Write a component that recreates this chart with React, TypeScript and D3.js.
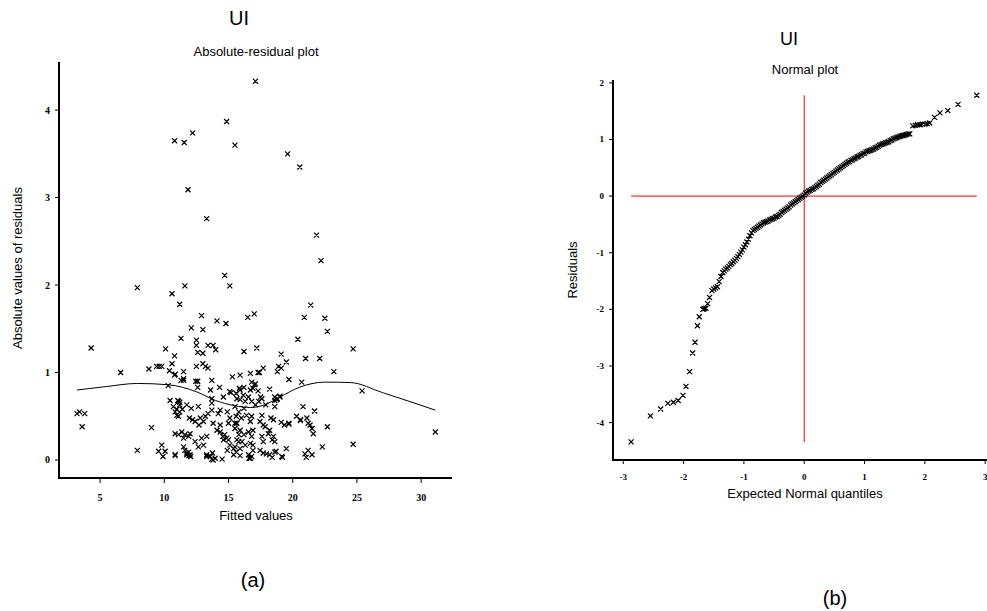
import React from 'react';
import * as d3 from 'd3';

// (a) absolute residuals vs fitted values
const fitted = [
  17.1, 14.85, 12.2, 10.8, 11.55, 15.5, 19.6, 20.55, 11.85, 13.3, 21.85, 22.2, 14.7, 7.9, 11.6, 15.1,
  10.6, 11.2, 21.4, 12.9, 20.9, 22.5, 16.5, 17.0, 14.1, 14.8, 12.1, 13.0, 22.7, 11.3, 12.5, 12.5,
  20.4, 4.3, 10.1, 13.4, 13.8, 14.0, 16.2, 17.2, 24.7, 12.6, 13.0, 19.1, 10.8, 21.0, 22.1, 19.5,
  10.6, 13.0, 13.2, 13.4, 8.8, 9.4, 9.6, 9.8, 12.5, 18.9, 19.1, 18.8, 17.7, 17.4, 6.6, 10.4,
  11.5, 23.2, 11.3, 11.5, 10.8, 13.7, 15.3, 15.9, 16.7, 16.8, 17.0, 17.1, 19.7, 20.7, 12.45, 12.6,
  10.3, 12.6, 14.3, 13.6, 18.2, 15.9, 16.2, 15.6, 25.4, 14.6, 15.2, 17.5, 19.0, 18.8, 18.6, 10.45,
  11.05, 11.2, 13.7, 13.7, 20.8, 3.2, 3.4, 3.8, 3.6, 21.7, 22.7, 9.0, 31.1, 24.7, 22.3, 7.9,
  10.85, 11.5, 15.1, 15.85, 11.1, 11.2, 10.7, 10.97, 10.84, 11.2, 11.4, 11.75, 12.1, 12.65, 10.97, 11.1,
  11.95, 12.2, 12.4, 12.8, 13.05, 12.7, 13.2, 13.7, 14.2, 13.8, 14.35, 14.9, 15.1, 15.6, 15.0, 15.5,
  10.84, 11.1, 11.36, 11.6, 12.0, 11.9, 11.5, 12.4, 12.9, 13.3, 13.05, 12.65, 11.5, 11.6, 11.9, 11.75,
  12.0, 9.8, 9.55, 10.06, 9.9, 10.84, 13.3, 13.57, 13.96, 13.7, 14.35, 14.7, 15.0, 14.6, 15.1, 14.9,
  15.4, 15.6, 15.8, 17.3, 16.7, 16.9, 17.3, 16.15, 15.65, 15.9, 16.3, 16.55, 16.8, 17.1, 17.35, 17.6,
  18.6, 18.75, 19.0, 18.6, 17.9, 15.5, 15.8, 16.2, 16.4, 16.8, 16.0, 15.65, 16.7, 17.6, 17.7, 17.85,
  17.45, 18.3, 18.5, 19.1, 19.35, 19.7, 20.6, 21.1, 21.2, 21.35, 21.5, 21.6, 15.5, 15.9, 15.8, 16.2,
  15.65, 16.05, 16.3, 15.9, 15.5, 16.55, 16.9, 16.8, 16.7, 16.9, 16.55, 16.8, 16.7, 17.6, 17.7, 18.1,
  18.4, 18.5, 18.6, 17.45, 17.7, 17.95, 18.2, 18.6, 19.15, 19.5, 20.95, 21.2, 21.5, 18.2, 18.7, 19.2,
  18.4, 19.7, 20.6, 20.3, 21.05, 10.84, 11.75, 11.9, 12.05, 13.3, 13.8, 14.5, 13.75, 15.4, 15.9, 16.6,
  16.9, 13.4, 14.35, 14.1, 14.55, 14.87,
];
const absResid = [
  4.33, 3.87, 3.74, 3.65, 3.63, 3.60, 3.50, 3.35, 3.09, 2.76, 2.57, 2.28, 2.11, 1.97, 1.99, 1.99,
  1.90, 1.78, 1.77, 1.65, 1.63, 1.62, 1.63, 1.67, 1.59, 1.56, 1.51, 1.49, 1.47, 1.39, 1.37, 1.31,
  1.38, 1.28, 1.27, 1.31, 1.31, 1.26, 1.24, 1.28, 1.27, 1.23, 1.22, 1.21, 1.19, 1.16, 1.16, 1.12,
  1.10, 1.10, 1.07, 1.05, 1.04, 1.07, 1.07, 1.07, 1.07, 1.07, 1.05, 1.01, 1.05, 1.00, 1.00, 1.02,
  1.01, 1.01, 0.91, 0.91, 0.97, 0.91, 0.95, 0.97, 0.99, 0.89, 0.86, 0.87, 0.92, 0.89, 0.90, 0.90,
  0.85, 0.83, 0.83, 0.80, 0.81, 0.80, 0.83, 0.76, 0.79, 0.72, 0.77, 0.72, 0.72, 0.70, 0.68, 0.68,
  0.68, 0.63, 0.70, 0.65, 0.61, 0.53, 0.55, 0.53, 0.38, 0.56, 0.38, 0.37, 0.32, 0.18, 0.15, 0.11,
  0.98, 0.93, 0.78, 0.82, 0.67, 0.66, 0.61, 0.58, 0.55, 0.55, 0.58, 0.63, 0.59, 0.61, 0.51, 0.50,
  0.48, 0.46, 0.44, 0.48, 0.44, 0.40, 0.50, 0.57, 0.53, 0.42, 0.40, 0.55, 0.48, 0.50, 0.42, 0.42,
  0.30, 0.29, 0.32, 0.29, 0.30, 0.27, 0.25, 0.21, 0.25, 0.27, 0.17, 0.15, 0.15, 0.11, 0.09, 0.06,
  0.06, 0.17, 0.10, 0.10, 0.04, 0.06, 0.06, 0.04, 0.02, 0.01, 0.32, 0.29, 0.23, 0.23, 0.17, 0.11,
  0.13, 0.09, 0.21, 1.00, 0.80, 0.82, 0.79, 0.74, 0.70, 0.69, 0.67, 0.72, 0.67, 0.63, 0.67, 0.70,
  0.72, 0.69, 0.73, 0.61, 0.63, 0.61, 0.55, 0.59, 0.51, 0.50, 0.48, 0.42, 0.44, 0.51, 0.40, 0.38,
  0.44, 0.48, 0.46, 0.43, 0.40, 0.41, 0.46, 0.48, 0.42, 0.40, 0.36, 0.30, 0.36, 0.34, 0.29, 0.29,
  0.23, 0.21, 0.17, 0.13, 0.15, 0.32, 0.34, 0.27, 0.19, 0.17, 0.06, 0.04, 0.02, 0.27, 0.21, 0.30,
  0.23, 0.27, 0.21, 0.11, 0.08, 0.07, 0.06, 0.09, 0.04, 0.13, 0.07, 0.11, 0.06, 0.34, 0.10, 0.03,
  0.03, 0.42, 0.45, 0.50, 0.03, 0.05, 0.08, 0.05, 0.04, 0.04, 0.00, 0.01, 0.08, 0.06, 0.05, 0.02,
  0.11, 0.53, 0.57, 0.34, 0.27, 0.25,
];
// smoother through the absolute residuals
const smoothX = [3.2, 5.5, 7.9, 10.3, 12.5, 14.0, 15.5, 16.7, 17.8, 19.0, 20.5, 22.5, 24.5, 27.0, 31.1];
const smoothY = [0.80, 0.84, 0.875, 0.86, 0.78, 0.68, 0.62, 0.60, 0.63, 0.72, 0.83, 0.89, 0.885, 0.77, 0.57];

// (b) normal plot: expected quantile and sorted residual
const normQuant = [
  -2.87, -2.55, -2.38, -2.26, -2.17, -2.09, -2.01, -1.96, -1.90, -1.85, -1.81, -1.77, -1.74, -1.68, -1.66, -1.63,
  -1.60, -1.57, -1.53, -1.50, -1.47, -1.44, -1.41, -1.38,
  -1.35, -1.325, -1.30, -1.275, -1.25, -1.225, -1.20, -1.175, -1.15, -1.125, -1.10, -1.075, -1.05, -1.025,
  -1.00, -0.975, -0.95, -0.925, -0.90, -0.875, -0.85, -0.825, -0.80, -0.775, -0.75, -0.725, -0.70, -0.675,
  -0.65, -0.625, -0.60, -0.575, -0.55, -0.525, -0.50, -0.475, -0.45, -0.425, -0.40, -0.375, -0.35, -0.325,
  -0.30, -0.275, -0.25, -0.225, -0.20, -0.175, -0.15, -0.125, -0.10, -0.075, -0.05, -0.025, 0.00, 0.025,
  0.05, 0.075, 0.10, 0.125, 0.15, 0.175, 0.20, 0.225, 0.25, 0.275, 0.30, 0.325, 0.35, 0.375, 0.40, 0.425,
  0.45, 0.475, 0.50, 0.525, 0.55, 0.575, 0.60, 0.625, 0.65, 0.675, 0.70, 0.725, 0.75, 0.775, 0.80, 0.825,
  0.85, 0.875, 0.90, 0.925, 0.95, 0.975, 1.00, 1.025, 1.05, 1.075, 1.10, 1.125, 1.15, 1.175, 1.20, 1.225,
  1.25, 1.275, 1.30, 1.325, 1.35, 1.375, 1.40, 1.425, 1.45, 1.475, 1.50, 1.525, 1.55, 1.575, 1.60, 1.625,
  1.65, 1.675, 1.70, 1.725, 1.75,
  1.80, 1.84, 1.88, 1.92, 1.96, 2.00, 2.04, 2.08, 2.16, 2.25, 2.38, 2.55, 2.86,
];
const residuals = [
  -4.34, -3.88, -3.76, -3.66, -3.64, -3.61, -3.52, -3.36, -3.10, -2.77, -2.58, -2.29, -2.13, -2.00, -1.99, -1.98,
  -1.90, -1.79, -1.67, -1.64, -1.62, -1.60, -1.51, -1.42,
  -1.35, -1.32, -1.29, -1.27, -1.24, -1.21, -1.19, -1.16, -1.13, -1.10, -1.07, -1.03, -0.99, -0.95,
  -0.90, -0.86, -0.81, -0.76, -0.70, -0.65, -0.61, -0.59, -0.57, -0.55, -0.53, -0.51, -0.49, -0.47,
  -0.46, -0.45, -0.44, -0.42, -0.41, -0.40, -0.39, -0.37, -0.36, -0.34, -0.32, -0.29, -0.27, -0.25,
  -0.23, -0.21, -0.19, -0.16, -0.14, -0.12, -0.10, -0.08, -0.06, -0.04, -0.02, 0.00, 0.02, 0.05,
  0.07, 0.09, 0.10, 0.12, 0.13, 0.15, 0.17, 0.19, 0.21, 0.24, 0.26, 0.28, 0.30, 0.32, 0.34, 0.36,
  0.38, 0.40, 0.42, 0.44, 0.46, 0.48, 0.50, 0.52, 0.54, 0.56, 0.58, 0.60, 0.61, 0.63, 0.64, 0.66,
  0.67, 0.69, 0.70, 0.72, 0.73, 0.75, 0.76, 0.78, 0.79, 0.80, 0.81, 0.82, 0.83, 0.85, 0.86, 0.88,
  0.90, 0.91, 0.92, 0.93, 0.94, 0.95, 0.96, 0.98, 0.99, 1.01, 1.02, 1.03, 1.04, 1.05, 1.06, 1.07,
  1.07, 1.08, 1.09, 1.10, 1.10,
  1.24, 1.25, 1.26, 1.26, 1.27, 1.27, 1.28, 1.29, 1.39, 1.47, 1.51, 1.62, 1.78,
];

const leftYTicks = [0, 1, 2, 3, 4];
const leftXTicks = [5, 10, 15, 20, 25, 30];
const rightYTicks = [-4, -3, -2, -1, 0, 1, 2];
const rightXTicks = [-3, -2, -1, 0, 1, 2, 3];

const sans = '"Liberation Sans", Arial, sans-serif';
const serif = '"Liberation Serif", "Times New Roman", serif';

// an "x" marker
function cross(x, y, s = 2.5) {
  return `M${x - s},${y - s}L${x + s},${y + s}M${x - s},${y + s}L${x + s},${y - s}`;
}

export default function App() {
  const xA = d3.scaleLinear().domain([1.8, 32.4]).range([59, 452]);
  const yA = d3.scaleLinear().domain([-0.206, 4.55]).range([478, 62]);
  const xB = d3.scaleLinear().domain([-3.17, 3.03]).range([613, 987]);
  const yB = d3.scaleLinear().domain([-4.66, 2.05]).range([460, 80]);

  const smoothPath = d3.line()
    .x((d) => xA(d[0]))
    .y((d) => yA(d[1]))
    .curve(d3.curveMonotoneX)(smoothX.map((x, i) => [x, smoothY[i]]));

  const aPts = fitted.map((x, i) => cross(xA(x), yA(absResid[i]))).join('');
  const bPts = normQuant.map((q, i) => cross(xB(q), yB(residuals[i]))).join('');

  const qExt = d3.extent(normQuant);
  const rExt = d3.extent(residuals);

  return (
    <div style={{ position: 'absolute', left: 0, top: 0 }}>
      <svg width={987} height={611} style={{ display: 'block', background: '#fff' }}>
        {/* (a) */}
        <text x={239} y={25} textAnchor="middle" fontFamily={sans} fontSize={20}>UI</text>
        <text x={256} y={56} textAnchor="middle" fontFamily={sans} fontSize={13}>Absolute-residual plot</text>

        <line x1={59} x2={59} y1={62} y2={479} stroke="#000" strokeWidth={2} />
        <line x1={58} x2={452} y1={478} y2={478} stroke="#000" strokeWidth={2} />
        {leftYTicks.map((t) => (
          <g key={'ay' + t}>
            <line x1={55} x2={59} y1={yA(t)} y2={yA(t)} stroke="#000" strokeWidth={1} />
            <text x={50} y={yA(t) + 3.5} textAnchor="end" fontFamily={serif} fontWeight="bold" fontSize={10}>{t}</text>
          </g>
        ))}
        {leftXTicks.map((t) => (
          <g key={'ax' + t}>
            <line x1={xA(t)} x2={xA(t)} y1={478} y2={483} stroke="#000" strokeWidth={1} />
            <text x={xA(t)} y={501} textAnchor="middle" fontFamily={serif} fontWeight="bold" fontSize={10}>{t}</text>
          </g>
        ))}
        <text x={256} y={520} textAnchor="middle" fontFamily={sans} fontSize={13}>Fitted values</text>
        <text transform="translate(22,268) rotate(-90)" textAnchor="middle" fontFamily={sans} fontSize={13}>
          Absolute values of residuals
        </text>

        <path d={aPts} stroke="#000" strokeWidth={1.2} fill="none" />
        <path d={smoothPath} stroke="#000" strokeWidth={1} fill="none" />

        <text x={253} y={587} textAnchor="middle" fontFamily={sans} fontSize={20}>(a)</text>

        {/* (b) */}
        <text x={789} y={45} textAnchor="middle" fontFamily={sans} fontSize={18}>UI</text>
        <text x={805} y={74} textAnchor="middle" fontFamily={sans} fontSize={13}>Normal plot</text>

        <line x1={613} x2={613} y1={80} y2={461} stroke="#000" strokeWidth={2} />
        <line x1={612} x2={987} y1={460} y2={460} stroke="#000" strokeWidth={2} />
        {rightYTicks.map((t) => (
          <g key={'by' + t}>
            <line x1={609} x2={613} y1={yB(t)} y2={yB(t)} stroke="#000" strokeWidth={1} />
            <text x={604} y={yB(t) + 3} textAnchor="end" fontFamily={serif} fontWeight="bold" fontSize={9}>{t}</text>
          </g>
        ))}
        {rightXTicks.map((t) => (
          <g key={'bx' + t}>
            <line x1={xB(t)} x2={xB(t)} y1={460} y2={464} stroke="#000" strokeWidth={1} />
            <text x={xB(t)} y={480} textAnchor="middle" fontFamily={serif} fontWeight="bold" fontSize={9}>{t}</text>
          </g>
        ))}
        <text x={805} y={498} textAnchor="middle" fontFamily={sans} fontSize={13}>Expected Normal quantiles</text>
        <text transform="translate(577,270) rotate(-90)" textAnchor="middle" fontFamily={sans} fontSize={13}>Residuals</text>

        <line x1={xB(qExt[0])} x2={xB(qExt[1])} y1={yB(0)} y2={yB(0)} stroke="#f00" strokeWidth={1} />
        <line x1={xB(0)} x2={xB(0)} y1={yB(rExt[1])} y2={yB(rExt[0])} stroke="#f00" strokeWidth={1} />
        <path d={bPts} stroke="#000" strokeWidth={1.2} fill="none" />

        <text x={835} y={605} textAnchor="middle" fontFamily={sans} fontSize={20}>(b)</text>
      </svg>
    </div>
  );
}
